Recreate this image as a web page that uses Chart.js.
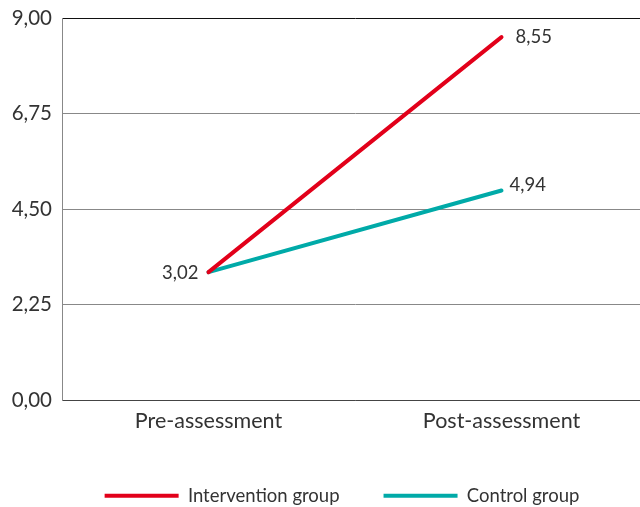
<!DOCTYPE html>
<html><head><meta charset="utf-8">
<script src="https://cdn.jsdelivr.net/npm/chart.js@4/dist/chart.umd.min.js"></script>
<style>
html,body{margin:0;padding:0;background:#fff;overflow:hidden;width:640px;height:507px}
#wrap{width:648px;height:507px;position:relative}
</style></head><body>
<div id="wrap"><canvas id="c" width="648" height="507"></canvas></div>
<script>
const categories = ["Pre-assessment", "Post-assessment"];
const seriesNames = ["Intervention group", "Control group"];
const intervention = [3.02, 8.55];
const control = [3.02, 4.94];
const yTicks = [0, 2.25, 4.5, 6.75, 9];

const RED = "#e2001a", TEAL = "#00aaa8", TXT = "#333333";
const fmt = v => v.toFixed(2).replace(".", ",");

const labelPlugin = {
  id: "vals",
  afterDatasetsDraw(chart) {
    const ctx = chart.ctx;
    ctx.save();
    ctx.font = "18.5px Lato";
    ctx.fillStyle = TXT;
    ctx.textBaseline = "middle";
    chart.data.datasets.forEach((ds, di) => {
      const meta = chart.getDatasetMeta(di);
      meta.data.forEach((pt, i) => {
        if (i === 0) {
          if (di !== 0) return;
          ctx.textAlign = "right";
          ctx.fillText(fmt(ds.data[i]), pt.x - 10, pt.y + 1);
        } else {
          ctx.textAlign = "left";
          if (di === 0) ctx.fillText(fmt(ds.data[i]), pt.x + 14, pt.y);
          else ctx.fillText(fmt(ds.data[i]), pt.x + 8, pt.y - 6);
        }
      });
    });
    ctx.restore();
  }
};

const legendShift = {
  id: "legendShift",
  afterLayout(chart) {
    const lg = chart.legend;
    if (!lg) return;
    const dx = -13, dy = 8;
    lg.left += dx; lg.right += dx;
    lg.top += dy; lg.bottom += dy;
  }
};

new Chart(document.getElementById("c"), {
  type: "line",
  data: {
    labels: categories,
    datasets: [
      {label: seriesNames[0], data: intervention, borderColor: RED, backgroundColor: RED, borderWidth: 4, pointRadius: 0, borderCapStyle: "round", tension: 0},
      {label: seriesNames[1], data: control, borderColor: TEAL, backgroundColor: TEAL, borderWidth: 4, pointRadius: 0, borderCapStyle: "round", tension: 0}
    ]
  },
  options: {
    responsive: false,
    animation: false,
    layout: {padding: {top: 18, bottom: 0, left: 0, right: 0}},
    plugins: {
      tooltip: {enabled: false},
      legend: {
        position: "bottom",
        fullSize: false,
        labels: {
          boxWidth: 74, boxHeight: 4, padding: 44, color: TXT,
          font: {family: "Lato", size: 18.5},
          generateLabels(chart) {
            return chart.data.datasets.map((d, i) => ({
              text: d.label, fillStyle: d.borderColor, strokeStyle: d.borderColor, lineWidth: 0, datasetIndex: i, fontColor: TXT
            }));
          }
        }
      }
    },
    scales: {
      x: {
        offset: true,
        grid: {display: false, drawTicks: false},
        border: {color: "#444", width: 1},
        ticks: {color: TXT, font: {family: "Lato", size: 21.5}, padding: 8},
        afterFit(s) { s.height = 34; s.paddingLeft = 0; s.paddingRight = 0; }
      },
      y: {
        min: 0, max: 9,
        afterBuildTicks(s) { s.ticks = yTicks.map(v => ({value: v})); },
        grid: {color: ctx => ctx.index === yTicks.length - 1 ? "#111" : "#888", drawTicks: false, lineWidth: 1},
        border: {color: "#888", width: 1},
        ticks: {color: TXT, font: {family: "Lato", size: 20.5}, padding: 10, callback: v => fmt(v)},
        afterFit(s) { s.width = 62; s.paddingTop = 0; s.paddingBottom = 0; }
      }
    }
  },
  plugins: [labelPlugin, legendShift]
});
</script>
</body></html>
